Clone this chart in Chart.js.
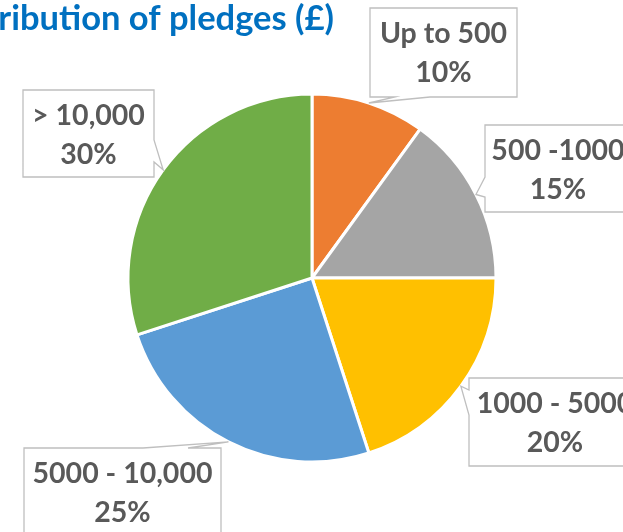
<!DOCTYPE html>
<html>
<head>
<meta charset="utf-8">
<script src="https://cdn.jsdelivr.net/npm/chart.js@4.4.1/dist/chart.umd.min.js"></script>
<style>
html,body{margin:0;padding:0;background:#ffffff;overflow:hidden;}
#wrap{position:relative;width:623px;height:532px;}
</style>
</head>
<body>
<div id="wrap"><canvas id="c" width="623" height="532"></canvas></div>
<script>
// ---- data ----
const categories = ['Up to 500', '500 -1000', '1000 - 5000', '5000 - 10,000', '> 10,000'];
const shares = [10, 15, 20, 25, 30];
const percentLabels = ['10%', '15%', '20%', '25%', '30%'];
const chartTitle = 'Distribution of pledges (£)';

// ---- styles / layout ----
const sliceColors = ['#ED7D31', '#A5A5A5', '#FFC000', '#5B9BD5', '#70AD47'];
const calloutBoxes = [
  {x: 370, y: 8,   w: 147, h: 89, side: 'bottom', b0: 395, b1: 430},
  {x: 485, y: 125, w: 146, h: 87, side: 'left',   b0: 177, b1: 197},
  {x: 469, y: 378, w: 172, h: 88, side: 'left',   b0: 390, b1: 415},
  {x: 24,  y: 448, w: 197, h: 92, side: 'top',    b0: 143, b1: 188},
  {x: 23,  y: 90,  w: 131, h: 87, side: 'right',  b0: 140, b1: 162}
];
const labelFont = 'bold 28.5px Lato';
const titleFont = 'bold 34.5px Lato';

const calloutPlugin = {
  id: 'callouts',
  afterDatasetsDraw(chart) {
    const ctx = chart.ctx;
    const meta = chart.getDatasetMeta(0);
    ctx.save();
    // title
    ctx.font = titleFont;
    ctx.fillStyle = '#0070C0';
    ctx.textAlign = 'right';
    ctx.textBaseline = 'alphabetic';
    ctx.fillText(chartTitle, 334, 30);

    meta.data.forEach((arc, i) => {
      const b = calloutBoxes[i];
      const mid = (arc.startAngle + arc.endAngle) / 2;
      const R = arc.outerRadius;
      const tx = arc.x + Math.cos(mid) * R;
      const ty = arc.y + Math.sin(mid) * R;
      const L = b.x, T = b.y, Rr = b.x + b.w, B = b.y + b.h;
      ctx.beginPath();
      ctx.moveTo(L, T);
      if (b.side === 'top') { ctx.lineTo(b.b0, T); ctx.lineTo(tx, ty); ctx.lineTo(b.b1, T); }
      ctx.lineTo(Rr, T);
      if (b.side === 'right') { ctx.lineTo(Rr, b.b0); ctx.lineTo(tx, ty); ctx.lineTo(Rr, b.b1); }
      ctx.lineTo(Rr, B);
      if (b.side === 'bottom') { ctx.lineTo(b.b1, B); ctx.lineTo(tx, ty); ctx.lineTo(b.b0, B); }
      ctx.lineTo(L, B);
      if (b.side === 'left') { ctx.lineTo(L, b.b1); ctx.lineTo(tx, ty); ctx.lineTo(L, b.b0); }
      ctx.closePath();
      ctx.fillStyle = '#ffffff';
      ctx.fill();
      ctx.lineWidth = 1.3;
      ctx.strokeStyle = '#BFBFBF';
      ctx.stroke();

      ctx.font = labelFont;
      ctx.fillStyle = '#595959';
      ctx.textAlign = 'center';
      ctx.textBaseline = 'alphabetic';
      const cx = b.x + b.w / 2;
      ctx.fillText(categories[i], cx, b.y + 35);
      ctx.fillText(percentLabels[i], cx, b.y + 74);
    });
    ctx.restore();
  }
};

function draw() {
  new Chart(document.getElementById('c'), {
    type: 'pie',
    data: {
      labels: categories,
      datasets: [{
        data: shares,
        backgroundColor: sliceColors,
        borderColor: '#ffffff',
        borderWidth: 3
      }]
    },
    options: {
      responsive: false,
      animation: false,
      radius: 184,
      layout: {padding: {left: 1, right: 0, top: 24, bottom: 0}},
      plugins: {
        legend: {display: false},
        tooltip: {enabled: false},
        title: {display: false}
      }
    },
    plugins: [calloutPlugin]
  });
}
if (document.fonts && document.fonts.load) {
  Promise.all([document.fonts.load(labelFont), document.fonts.load(titleFont)]).then(draw, draw);
} else { draw(); }
</script>
</body>
</html>
